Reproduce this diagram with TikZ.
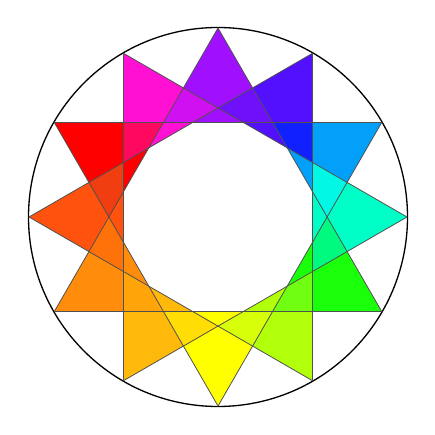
\documentclass[tikz,border=0pt]{standalone}
\usepackage{tikz}
\usepackage{color}
\definecolor{tipNorth}{RGB}{160,16,255}
\definecolor{tipNNE}{RGB}{82,16,255}
\definecolor{tipENE}{RGB}{2,160,248}
\definecolor{tipEast}{RGB}{0,255,198}
\definecolor{tipESE}{RGB}{26,255,10}
\definecolor{tipSSE}{RGB}{178,255,12}
\definecolor{tipSouth}{RGB}{255,255,0}
\definecolor{tipSSW}{RGB}{255,185,10}
\definecolor{tipWSW}{RGB}{255,140,10}
\definecolor{tipWest}{RGB}{255,82,14}
\definecolor{tipWNW}{RGB}{255,0,0}
\definecolor{tipNNW}{RGB}{255,16,210}
\definecolor{mixNorthNNE}{RGB}{112,16,250}
\definecolor{mixNNEENE}{RGB}{16,32,255}
\definecolor{mixENEEast}{RGB}{0,248,228}
\definecolor{mixEastESE}{RGB}{0,250,128}
\definecolor{mixESESSE}{RGB}{112,255,16}
\definecolor{mixSSESouth}{RGB}{216,255,10}
\definecolor{mixSouthSSW}{RGB}{255,221,5}
\definecolor{mixSSWWSW}{RGB}{255,165,10}
\definecolor{mixWSWWest}{RGB}{255,114,10}
\definecolor{mixWestWNW}{RGB}{240,62,16}
\definecolor{mixWNWNNW}{RGB}{255,8,96}
\definecolor{mixNNWNorth}{RGB}{208,16,240}
\definecolor{armline}{RGB}{80,80,80}
\newcommand{\tikzArmTriangle}[2]{
  \fill[#2] (#1:189) -- (#1-30:109.12) -- (#1+30:109.12) -- cycle;
}
\newcommand{\tikzArmOverlap}[2]{
  \begin{scope}
    \clip (#1:189) -- (#1-30:109.12) -- (#1+30:109.12) -- cycle;
    \fill[#2] (#1-30:189) -- (#1-60:109.12) -- (#1:109.12) -- cycle;
  \end{scope}
}
\newcommand{\tikzArmOutline}[1]{
  \draw[draw=armline,line width=0.45pt] (#1:189) -- (#1-30:109.12) -- (#1+30:109.12) -- cycle;
}
\begin{document}
\begin{tikzpicture}[x=0.02cm, y=0.02cm]
  \useasboundingbox (0,0) rectangle (435,435);
  \begin{scope}[shift={(218,218)}]
  \draw [line width=0.75pt] (0,0) circle (189.5);
  \tikzArmTriangle{90}{tipNorth}
  \tikzArmTriangle{60}{tipNNE}
  \tikzArmTriangle{30}{tipENE}
  \tikzArmTriangle{0}{tipEast}
  \tikzArmTriangle{-30}{tipESE}
  \tikzArmTriangle{-60}{tipSSE}
  \tikzArmTriangle{-90}{tipSouth}
  \tikzArmTriangle{-120}{tipSSW}
  \tikzArmTriangle{-150}{tipWSW}
  \tikzArmTriangle{180}{tipWest}
  \tikzArmTriangle{150}{tipWNW}
  \tikzArmTriangle{120}{tipNNW}
  \tikzArmOverlap{90}{mixNorthNNE}
  \tikzArmOverlap{60}{mixNNEENE}
  \tikzArmOverlap{30}{mixENEEast}
  \tikzArmOverlap{0}{mixEastESE}
  \tikzArmOverlap{-30}{mixESESSE}
  \tikzArmOverlap{-60}{mixSSESouth}
  \tikzArmOverlap{-90}{mixSouthSSW}
  \tikzArmOverlap{-120}{mixSSWWSW}
  \tikzArmOverlap{-150}{mixWSWWest}
  \tikzArmOverlap{180}{mixWestWNW}
  \tikzArmOverlap{150}{mixWNWNNW}
  \tikzArmOverlap{120}{mixNNWNorth}
  \tikzArmOutline{90}
  \tikzArmOutline{60}
  \tikzArmOutline{30}
  \tikzArmOutline{0}
  \tikzArmOutline{-30}
  \tikzArmOutline{-60}
  \tikzArmOutline{-90}
  \tikzArmOutline{-120}
  \tikzArmOutline{-150}
  \tikzArmOutline{180}
  \tikzArmOutline{150}
  \tikzArmOutline{120}
  \end{scope}
\end{tikzpicture}
\end{document}
